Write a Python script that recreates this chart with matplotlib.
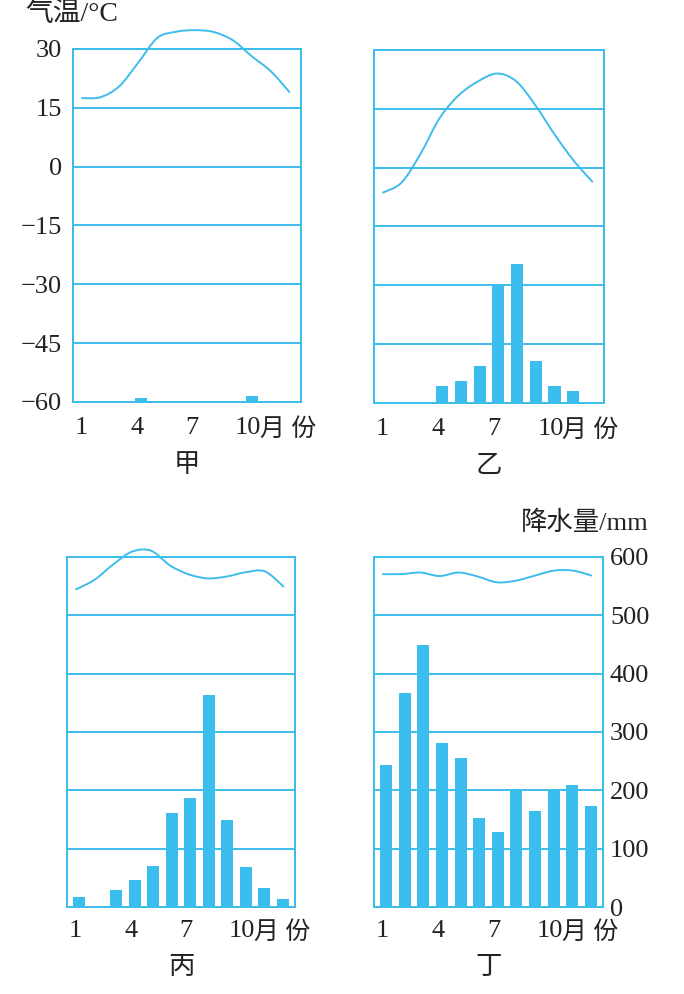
import matplotlib
matplotlib.use('Agg')
import matplotlib.pyplot as plt
import numpy as np
from matplotlib.path import Path
from matplotlib.patches import PathPatch

# ---------------- data ----------------
months = np.arange(1, 13)
month_ticks = [1, 4, 7, 10]
month_tick_labels = ['1', '4', '7', '10']

temp_ticks = [-60, -45, -30, -15, 0, 15, 30]
temp_tick_labels = ['−60', '−45', '−30', '−15', '0', '15', '30']
prec_ticks = [0, 100, 200, 300, 400, 500, 600]
prec_tick_labels = ['0', '100', '200', '300', '400', '500', '600']

panel_names = ['甲', '乙', '丙', '丁']

temp_jia = [17.5, 17.7, 20.5, 26.5, 32.8, 34.4, 34.8, 34.3, 32.2, 28.1, 24.3, 18.9]
prec_jia = [0, 0, 0, 7, 0, 0, 0, 0, 0, 11, 0, 0]

temp_yi = [-6.4, -3.8, 3.6, 12.7, 18.5, 22.0, 24.0, 22.0, 15.9, 8.5, 1.8, -3.7]
prec_yi = [0, 0, 0, 29, 38, 63, 200, 237, 71, 29, 21, 0]

temp_bing = [21.6, 24.1, 28.1, 31.4, 31.6, 27.8, 25.5, 24.5, 25.0, 26.1, 26.3, 22.3]
prec_bing = [18, 0, 30, 46, 70, 162, 187, 363, 149, 69, 33, 13]

temp_ding = [25.6, 25.6, 26.0, 25.1, 26.0, 25.0, 23.5, 23.9, 25.2, 26.5, 26.5, 25.2]
prec_ding = [244, 367, 449, 281, 255, 153, 129, 200, 164, 201, 210, 173]

temps = [temp_jia, temp_yi, temp_bing, temp_ding]
precs = [prec_jia, prec_yi, prec_bing, prec_ding]

# ---------------- style ----------------
FONT = ['Liberation Serif', 'Noto Sans CJK SC', 'DejaVu Sans']
plt.rcParams['font.family'] = FONT
LINE_C = '#3dbdea'
BAR_C = '#3bbdee'
TXT_C = '#222222'
FS = 19

W, H = 684, 994
fig = plt.figure(figsize=(W / 100, H / 100), dpi=100)

# panel boxes in pixels: (left, top, right, bottom)
boxes = [(73, 49, 301, 402), (374, 50, 604, 403),
         (67, 557, 295, 907), (374, 557, 603, 907)]


def rect(b):
    l, t, r, bt = b
    return [l / W, 1 - bt / H, (r - l) / W, (bt - t) / H]


def smooth_path(x, y):
    pts = np.column_stack([x, y]).astype(float)
    n = len(pts)
    verts = [pts[0]]
    codes = [Path.MOVETO]
    for i in range(n - 1):
        p0 = pts[i - 1] if i > 0 else pts[i]
        p1 = pts[i]
        p2 = pts[i + 1]
        p3 = pts[i + 2] if i + 2 < n else pts[i + 1]
        c1 = p1 + (p2 - p0) / 6.0
        c2 = p2 - (p3 - p1) / 6.0
        verts += [c1, c2, p2]
        codes += [Path.CURVE4] * 3
    return Path(verts, codes)


line_x = 0.8 + (months - 1) * (11.25 / 11)

for k in range(4):
    ax = fig.add_axes(rect(boxes[k]))
    ax.set_xlim(0.35, 12.65)
    ax.set_ylim(-60, 30)
    for t in temp_ticks[1:-1]:
        ax.axhline(t, color=LINE_C, lw=1.4, zorder=1)
    ax.set_xticks([])
    ax2 = ax.twinx()
    ax2.set_ylim(0, 600)
    ax2.set_xlim(0.35, 12.65)
    ax2.bar(months, precs[k], width=0.65, color=BAR_C, zorder=2)
    ax2.add_patch(PathPatch(smooth_path(line_x, temps[k]), transform=ax.transData,
                            fill=False, edgecolor=LINE_C, lw=1.4, clip_on=False, zorder=3))
    for a in (ax, ax2):
        for s in a.spines.values():
            s.set_color(LINE_C)
            s.set_linewidth(1.4)
    if k == 0:
        ax.set_yticks(temp_ticks)
        ax.set_yticklabels(temp_tick_labels, fontsize=FS, color=TXT_C)
        ax.tick_params(axis='y', length=0, pad=8)
    else:
        ax.set_yticks([])
    if k == 3:
        ax2.set_yticks(prec_ticks)
        ax2.set_yticklabels(prec_tick_labels, fontsize=FS, color=TXT_C)
        ax2.tick_params(axis='y', length=0, pad=5)
    else:
        ax2.set_yticks([])

    dy = -26 if k < 2 else -24
    for m, lab in zip(month_ticks, month_tick_labels):
        ax.annotate(lab, xy=(m, 0), xycoords=('data', 'axes fraction'),
                    xytext=(-4, dy), textcoords='offset pixels',
                    ha='center', va='center', fontsize=FS, color=TXT_C)
    ax.annotate('月 份', xy=(10, 0), xycoords=('data', 'axes fraction'),
                xytext=(8, dy - 1), textcoords='offset pixels',
                ha='left', va='center', fontsize=FS - 1, color=TXT_C)
    tdy = -64 if k < 2 else -61
    ax.annotate(panel_names[k], xy=(0.5, 0), xycoords='axes fraction',
                xytext=(0, tdy), textcoords='offset pixels',
                ha='center', va='center', fontsize=FS, color=TXT_C)

fig.text(25 / W, 1 - 14 / H, '气温/°C', ha='left', va='center', fontsize=FS + 1, color=TXT_C)
fig.text(521 / W, 1 - 523 / H, '降水量/mm', ha='left', va='center', fontsize=FS, color=TXT_C)

fig.savefig('out.png', dpi=100, facecolor='white')
